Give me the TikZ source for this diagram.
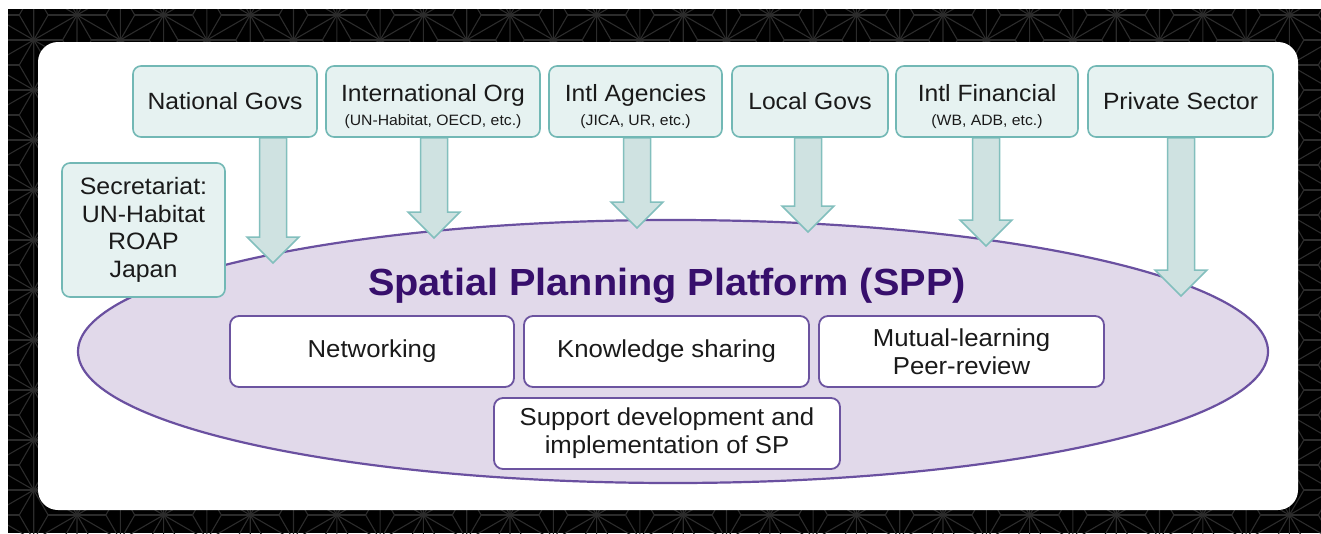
\documentclass[tikz,border=0pt]{standalone}
\usepackage{fontspec}
\setmainfont{Liberation Sans}[FakeStretch=1.05]
\usetikzlibrary{calc}
\definecolor{boxfill}{HTML}{E6F2F1}
\definecolor{tealb}{HTML}{72B8B5}
\definecolor{arrfill}{HTML}{CFE2E1}
\definecolor{arrdraw}{HTML}{82BFBD}
\definecolor{ellfill}{HTML}{E1D9EA}
\definecolor{ellline}{HTML}{6A50A0}
\definecolor{purpb}{HTML}{6C54A0}
\definecolor{titlec}{HTML}{370F6C}
\definecolor{txt}{HTML}{1A1A1A}
\definecolor{patc}{HTML}{2C2C2C}
\pgfdeclarelayer{bottom}
\pgfdeclarelayer{mid}
\pgfsetlayers{bottom,mid,main}
\newcommand\subfnt{\fontsize{15}{15}\selectfont}
\newcommand\topstrut{\rule{0pt}{28pt}}
\newcommand\blockarr[2]{%
  \draw[arrst] ($(#2|-#1.south)+(-13.5,0)$) -- ($(#2)+(-13.5,-26)$) -- ($(#2)+(-26,-26)$) -- (#2)
    -- ($(#2)+(26,-26)$) -- ($(#2)+(13.5,-26)$) -- ($(#2|-#1.south)+(13.5,0)$) -- cycle;}
\begin{document}
\begin{tikzpicture}[x=1pt,y=-1pt,
  pat/.style={draw=patc, line width=1.1pt},
  topbox/.style={draw=tealb, fill=boxfill, line width=1.6pt, rounded corners=8pt,
     minimum height=71pt, inner sep=0pt, align=center, text=txt,
     font=\fontsize{23.5}{24}\selectfont},
  innerbox/.style={draw=purpb, fill=white, line width=1.8pt, rounded corners=9pt,
     minimum width=284pt, minimum height=71pt, inner sep=0pt, align=center, text=txt,
     font=\fontsize{24.5}{28}\selectfont},
  arrst/.style={draw=arrdraw, fill=arrfill, line width=1.5pt, line join=miter}
]
\useasboundingbox (0,0) rectangle (1321,533);
\begin{pgfonlayer}{bottom}
\fill[white] (0,0) rectangle (1321,533);
\fill[black] (8,9) rectangle (1321,533);
\begin{scope}
\clip (8,9) rectangle (1321,533);
\foreach \j in {0,...,31}{
  \foreach \i in {-1,...,12}{
    \pgfmathsetmacro\X{-9.6+\j*43.3}
    \pgfmathsetmacro\Y{-35+\i*50+mod(\j,2)*25}
    \draw[pat] (\X,\Y) -- (\X,\Y+50) -- (\X+43.3,\Y+25) -- cycle;
    \draw[pat] (\X,\Y) -- (\X+14.43,\Y+25) -- (\X,\Y+50);
    \draw[pat] (\X+43.3,\Y+25) -- (\X+14.43,\Y+25);
    \draw[pat] (\X,\Y) -- (\X-14.43,\Y+25) -- (\X,\Y+50);
    \draw[pat] (\X-43.3,\Y+25) -- (\X-14.43,\Y+25);
  }
}
\end{scope}
\fill[white, rounded corners=20pt] (38,42) rectangle (1298,510);
\draw[ellline, fill=ellfill, line width=2.2pt] (673,351.5) ellipse [x radius=595pt, y radius=131.5pt];
\end{pgfonlayer}

% top boxes
\node[topbox, minimum width=184pt] (n1) at (225,101.5) {National Govs};
\node[topbox, minimum width=214pt] (n2) at (433,101.5) {\topstrut International Org\\[0pt]{\subfnt (UN-Habitat, OECD, etc.)}};
\node[topbox, minimum width=173pt] (n3) at (635.5,101.5) {\topstrut Intl Agencies\\[0pt]{\subfnt (JICA, UR, etc.)}};
\node[topbox, minimum width=156pt] (n4) at (810,101.5) {Local Govs};
\node[topbox, minimum width=182pt] (n5) at (987,101.5) {\topstrut Intl Financial\\[0pt]{\subfnt (WB, ADB, etc.)}};
\node[topbox, minimum width=185pt] (n6) at (1180.5,101.5) {Private Sector};

\node[topbox, minimum width=163pt, minimum height=134pt, font=\fontsize{23.7}{27.5}\selectfont] (sec) at (143.5,230) {Secretariat:\\UN-Habitat\\ROAP\\Japan};

% arrow tips
\coordinate (t1) at (273,263);
\coordinate (t2) at (434,238);
\coordinate (t3) at (637,228);
\coordinate (t4) at (808,232);
\coordinate (t5) at (986,246);
\coordinate (t6) at (1181,296);
\begin{pgfonlayer}{mid}
\blockarr{n1}{t1}
\blockarr{n2}{t2}
\blockarr{n3}{t3}
\blockarr{n4}{t4}
\blockarr{n5}{t5}
\blockarr{n6}{t6}
\end{pgfonlayer}

\node[anchor=base, text=titlec, font=\fontsize{37.8}{38}\bfseries\selectfont] (title) at (667,295) {Spatial Planning Platform (SPP)};

\node[innerbox] (k1) at (372,351.5) {Networking};
\node[innerbox, minimum width=285pt] (k2) at (666.5,351.5) {Knowledge sharing};
\node[innerbox, minimum width=285pt] (k3) at (961.5,351.5) {Mutual-learning\\Peer-review};
\node[innerbox, minimum width=346pt] (k4) at (667,433.5) {Support development and\\implementation of SP};
\end{tikzpicture}
\end{document}
